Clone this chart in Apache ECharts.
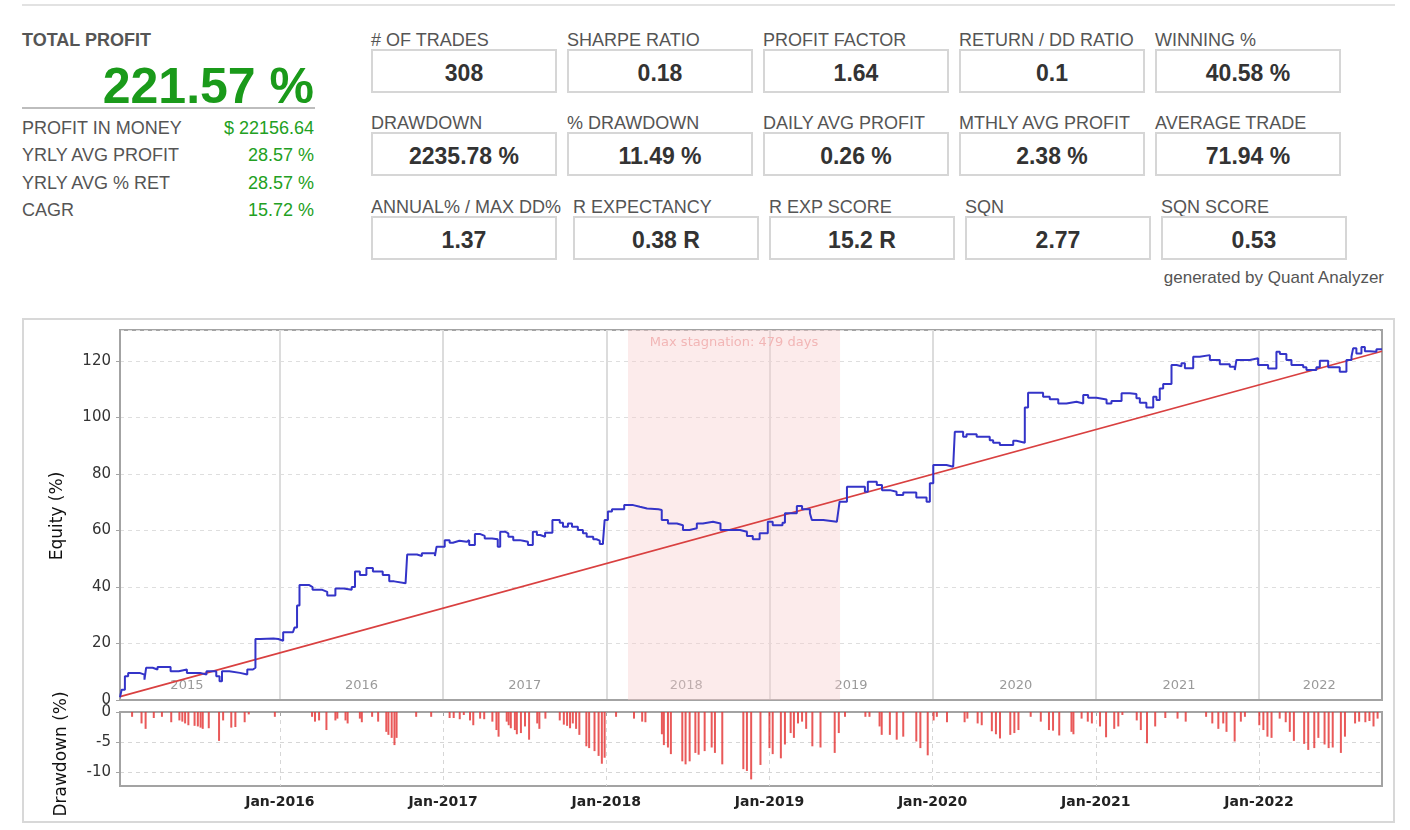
<!DOCTYPE html>
<html>
<head>
<meta charset="utf-8" />
<title>Quant Analyzer - equity</title>
<script src="https://cdn.jsdelivr.net/npm/echarts@6.0.0/dist/echarts.min.js"></script>
<style>
	body { margin: 0; width: 1410px; height: 830px; background: #fff; position: relative; overflow: hidden;
		font-family: "Liberation Sans", Arial, sans-serif; }
	.t { position: absolute; white-space: nowrap; }
	.box { position: absolute; box-sizing: border-box; border: 2px solid #d6d6d6; width: 186px; height: 44px;
		text-align: center; line-height: 45px; font-weight: bold; font-size: 23px; color: #333; }
	#chartBox { position: absolute; left: 22px; top: 318px; width: 1373px; height: 505px; box-sizing: border-box;
		border: 2px solid #d8d8d8; }
	#chart { position: absolute; left: 0; top: 0; width: 1369px; height: 501px; }
</style>
</head>
<body>
<div class="t" style="left:22px;top:4px;width:1373px;height:2px;background:#e2e2e2"></div>
<div class="t" style="left:22px;top:29px;line-height:22px;font-size:18px;font-weight:bold;color:#555">TOTAL PROFIT</div>
<div class="t" id="bigProfit" style="left:22px;top:56px;width:292px;line-height:60px;text-align:right;font-size:50px;font-weight:bold;color:#1a9a1a"></div>
<div class="t" style="left:22px;top:107px;width:293px;height:2px;background:#bdbdbd"></div>
<div id="stats"></div>
<div id="boxes"></div>
<div class="t" style="left:1000px;width:384px;top:268px;line-height:20px;text-align:right;font-size:17px;color:#555">generated by Quant Analyzer</div>

<div id="chartBox"><div id="chart"></div></div>

<script type="text/javascript">

	/******************* summary ******************/
	var totalProfit = '221.57 %';
	var statLabels = ['PROFIT IN MONEY', 'YRLY AVG PROFIT', 'YRLY AVG % RET', 'CAGR'];
	var statValues = ['$ 22156.64', '28.57 %', '28.57 %', '15.72 %'];

	var boxLabels = [
		['# OF TRADES', 'SHARPE RATIO', 'PROFIT FACTOR', 'RETURN / DD RATIO', 'WINNING %'],
		['DRAWDOWN', '% DRAWDOWN', 'DAILY AVG PROFIT', 'MTHLY AVG PROFIT', 'AVERAGE TRADE'],
		['ANNUAL% / MAX DD%', 'R EXPECTANCY', 'R EXP SCORE', 'SQN', 'SQN SCORE']
	];
	var boxValues = [
		['308', '0.18', '1.64', '0.1', '40.58 %'],
		['2235.78 %', '11.49 %', '0.26 %', '2.38 %', '71.94 %'],
		['1.37', '0.38 R', '15.2 R', '2.77', '0.53']
	];

	/******************* equity (x = decimal year) ******************/
	var equityYear = [
		2015.02, 2015.03, 2015.05, 2015.07, 2015.14, 2015.17, 2015.18, 2015.22, 2015.25, 2015.33,
		2015.38, 2015.43, 2015.51, 2015.55, 2015.61, 2015.63, 2015.645, 2015.69, 2015.755, 2015.80,
		2015.835, 2015.85, 2015.88, 2015.96, 2015.99, 2016.02, 2016.08, 2016.09, 2016.105, 2016.12,
		2016.18, 2016.20, 2016.26, 2016.29, 2016.34, 2016.39, 2016.44, 2016.46, 2016.49, 2016.53,
		2016.57, 2016.63, 2016.67, 2016.70, 2016.77, 2016.78, 2016.84, 2016.87, 2016.95, 2016.96,
		2017.01, 2017.04, 2017.06, 2017.10, 2017.145, 2017.16, 2017.195, 2017.225, 2017.255, 2017.30,
		2017.335, 2017.35, 2017.38, 2017.40, 2017.43, 2017.47, 2017.49, 2017.52, 2017.55, 2017.575,
		2017.595, 2017.625, 2017.67, 2017.715, 2017.735, 2017.765, 2017.79, 2017.826, 2017.857, 2017.88,
		2017.92, 2017.94, 2017.96, 2017.98, 2017.99, 2018.01, 2018.035, 2018.11, 2018.165, 2018.206,
		2018.25, 2018.32, 2018.34, 2018.378, 2018.433, 2018.47, 2018.51, 2018.555, 2018.592, 2018.654,
		2018.70, 2018.82, 2018.862, 2018.898, 2018.94, 2018.99, 2019.02, 2019.08, 2019.095, 2019.168,
		2019.20, 2019.248, 2019.26, 2019.33, 2019.413, 2019.42, 2019.43, 2019.475, 2019.585, 2019.603,
		2019.658, 2019.69, 2019.738, 2019.779, 2019.82, 2019.90, 2019.963, 2019.983, 2020.004, 2020.085,
		2020.126, 2020.136, 2020.187, 2020.208, 2020.27, 2020.35, 2020.371, 2020.412, 2020.494, 2020.514,
		2020.565, 2020.585, 2020.677, 2020.718, 2020.77, 2020.82, 2020.882, 2020.923, 2020.953, 2021.004,
		2021.066, 2021.096, 2021.158, 2021.209, 2021.249, 2021.27, 2021.31, 2021.352, 2021.372, 2021.392,
		2021.413, 2021.464, 2021.495, 2021.525, 2021.546, 2021.597, 2021.637, 2021.699, 2021.76, 2021.821,
		2021.852, 2021.862, 2021.944, 2021.995, 2022.056, 2022.107, 2022.128, 2022.168, 2022.199, 2022.271,
		2022.291, 2022.352, 2022.373, 2022.424, 2022.495, 2022.536, 2022.567, 2022.577, 2022.597, 2022.628,
		2022.649, 2022.679, 2022.72, 2022.754
	];
	var equityPct = [
		1.0, 3.6, 8.4, 9.6, 9.0, 7.2, 11.4, 10.8, 11.7, 10.2,
		10.8, 9.6, 9.0, 10.2, 8.4, 6.6, 10.2, 9.6, 9.0, 10.8,
		11.4, 21.6, 21.8, 21.6, 21.0, 24.0, 24.5, 25.7, 33.5, 40.7,
		40.0, 39.0, 38.3, 37.0, 39.5, 39.0, 40.0, 45.5, 44.3, 46.7,
		45.5, 44.3, 42.0, 41.3, 42.0, 51.5, 51.0, 52.0, 51.0, 54.3,
		56.6, 55.7, 56.4, 56.0, 56.6, 54.9, 58.8, 58.1, 57.2, 56.9,
		54.3, 59.6, 59.0, 57.8, 56.6, 56.4, 56.0, 54.9, 59.6, 58.4,
		57.8, 59.2, 63.7, 62.8, 61.3, 62.5, 61.3, 60.2, 59.0, 57.8,
		56.9, 56.4, 55.2, 56.0, 63.7, 66.7, 67.5, 69.0, 68.4, 67.8,
		67.5, 67.3, 63.7, 62.5, 61.9, 60.2, 60.8, 62.5, 63.1, 62.5,
		60.2, 59.6, 58.1, 56.9, 59.0, 63.1, 61.9, 62.8, 66.1, 68.7,
		67.5, 66.1, 63.7, 63.1, 62.5, 66.1, 70.2, 75.5, 73.7, 77.3,
		76.1, 74.3, 73.7, 72.6, 73.5, 71.7, 70.2, 76.7, 83.2, 82.6,
		82.0, 95.0, 93.2, 94.1, 93.2, 92.0, 91.1, 90.3, 91.8, 91.1,
		103.6, 108.8, 107.4, 106.5, 105.0, 105.6, 105.0, 108.0, 107.0, 106.4,
		105.0, 105.9, 108.6, 108.3, 106.8, 105.2, 103.6, 107.4, 106.2, 110.3,
		111.9, 118.6, 118.2, 119.2, 117.5, 121.5, 122.1, 120.4, 118.9, 118.0,
		116.8, 120.4, 121.0, 118.6, 117.4, 123.3, 122.5, 120.4, 118.6, 117.8,
		116.8, 117.8, 120.1, 117.8, 116.2, 120.4, 121.6, 124.5, 122.7, 125.0,
		123.5, 123.3, 124.2, 124.2
	];

	// linear trend of equity
	var trendYear = [2015.02, 2022.754];
	var trendPct = [1.2, 123.5];

	/******************* drawdown ******************/
	var ddYear = [
		2015.094, 2015.152, 2015.177, 2015.227, 2015.277, 2015.334, 2015.384, 2015.402, 2015.419, 2015.439,
		2015.477, 2015.497, 2015.514, 2015.527, 2015.564, 2015.627, 2015.652, 2015.702, 2015.727, 2015.784,
		2015.809, 2015.969, 2016.197, 2016.215, 2016.24, 2016.285, 2016.34, 2016.352, 2016.402, 2016.415,
		2016.49, 2016.502, 2016.565, 2016.602, 2016.652, 2016.665, 2016.685, 2016.702, 2016.715, 2016.835,
		2016.927, 2017.04, 2017.065, 2017.102, 2017.127, 2017.165, 2017.185, 2017.227, 2017.252, 2017.302,
		2017.327, 2017.34, 2017.39, 2017.402, 2017.415, 2017.44, 2017.452, 2017.477, 2017.502, 2017.527,
		2017.577, 2017.59, 2017.627, 2017.715, 2017.74, 2017.76, 2017.778, 2017.795, 2017.815, 2017.835,
		2017.878, 2017.895, 2017.928, 2017.953, 2017.973, 2017.99, 2018.06, 2018.17, 2018.22, 2018.24,
		2018.341, 2018.353, 2018.378, 2018.396, 2018.466, 2018.486, 2018.511, 2018.546, 2018.566, 2018.603,
		2018.646, 2018.666, 2018.711, 2018.84, 2018.862, 2018.888, 2018.945, 2019.0, 2019.02, 2019.07,
		2019.095, 2019.13, 2019.15, 2019.175, 2019.2, 2019.225, 2019.263, 2019.313, 2019.4, 2019.425,
		2019.463, 2019.588, 2019.613, 2019.675, 2019.688, 2019.738, 2019.78, 2019.82, 2019.9, 2019.925,
		2019.97, 2020.006, 2020.026, 2020.088, 2020.196, 2020.213, 2020.276, 2020.301, 2020.363, 2020.388,
		2020.413, 2020.476, 2020.501, 2020.526, 2020.601, 2020.663, 2020.713, 2020.738, 2020.776, 2020.851,
		2020.863, 2020.913, 2020.951, 2020.976, 2021.026, 2021.063, 2021.113, 2021.138, 2021.163, 2021.251,
		2021.276, 2021.314, 2021.364, 2021.426, 2021.501, 2021.551, 2021.676, 2021.714, 2021.751, 2021.781,
		2021.801, 2021.851, 2021.889, 2021.914, 2022.002, 2022.027, 2022.052, 2022.077, 2022.127, 2022.164,
		2022.189, 2022.214, 2022.277, 2022.302, 2022.339, 2022.364, 2022.402, 2022.427, 2022.452, 2022.502,
		2022.527, 2022.589, 2022.614, 2022.652, 2022.677, 2022.702, 2022.727
	];
	var ddPct = [
		-0.8, -1.9, -2.8, -1.0, -0.8, -1.7, -1.4, -1.6, -1.9, -2.2,
		-2.3, -2.4, -2.6, -2.8, -2.7, -4.8, -1.4, -2.6, -2.5, -1.7,
		-0.4, -0.8, -0.8, -1.6, -1.4, -3.0, -1.4, -1.1, -1.4, -1.9,
		-1.1, -1.7, -0.8, -1.6, -3.3, -3.8, -4.3, -5.5, -4.3, -0.8,
		-0.8, -1.0, -1.0, -1.2, -0.5, -1.4, -2.2, -1.1, -1.2, -1.6,
		-3.0, -4.1, -1.6, -2.2, -2.7, -3.0, -3.7, -3.5, -2.4, -4.6,
		-1.9, -2.8, -1.1, -1.4, -2.1, -2.3, -2.7, -1.9, -2.8, -3.8,
		-5.7, -6.0, -6.5, -7.3, -8.6, -7.6, -0.8, -1.1, -1.6, -1.7,
		-3.7, -5.5, -5.9, -7.0, -8.2, -8.7, -8.2, -6.8, -7.1, -6.5,
		-5.9, -6.8, -8.7, -9.5, -9.8, -11.2, -8.8, -6.0, -7.0, -7.7,
		-5.4, -3.5, -4.3, -1.9, -1.6, -2.8, -5.7, -5.9, -6.8, -3.5,
		-0.8, -0.8, -0.8, -2.4, -3.8, -3.8, -4.6, -4.1, -4.9, -6.0,
		-7.2, -1.4, -0.8, -1.7, -1.7, -1.1, -1.9, -2.2, -3.2, -3.7,
		-4.4, -3.8, -3.5, -3.0, -0.8, -1.6, -3.0, -3.1, -3.9, -3.3,
		-3.7, -1.1, -1.6, -1.9, -2.4, -4.2, -2.8, -2.4, -0.5, -1.4,
		-3.0, -5.2, -2.4, -1.0, -1.1, -1.6, -0.8, -1.9, -2.8, -1.9,
		-3.3, -4.9, -1.6, -0.8, -2.2, -3.0, -4.1, -4.3, -1.1, -1.7,
		-3.3, -4.8, -5.3, -6.3, -6.0, -4.3, -5.4, -6.0, -5.9, -6.8,
		-4.1, -1.9, -1.6, -1.7, -1.5, -2.4, -1.1
	];

	/******************* axis labels ******************/
	var yearStarts = [2016, 2017, 2018, 2019, 2020, 2021, 2022];
	var yearNames = ['2015', '2016', '2017', '2018', '2019', '2020', '2021', '2022'];
	var yearNamePos = [2015.43, 2016.5, 2017.5, 2018.49, 2019.5, 2020.51, 2021.51, 2022.37];
	var stagnation = [2018.133, 2019.433];
	var stagnationText = 'Max stagnation: 479 days';

	/******************* top panel ******************/
	document.getElementById('bigProfit').textContent = totalProfit;

	var statRowY = [128, 155, 183, 210];
	var html = '';
	for (let i = 0; i < statLabels.length; ++i) {
		html += '<div class="t" style="left:22px;top:' + (statRowY[i] - 11) + 'px;line-height:22px;font-size:18px;color:#555">' + statLabels[i] + '</div>';
		html += '<div class="t" style="left:180px;width:134px;text-align:right;top:' + (statRowY[i] - 11) + 'px;line-height:22px;font-size:18px;color:#22a022">' + statValues[i] + '</div>';
	}
	document.getElementById('stats').innerHTML = html;

	var rowLabelY = [40, 123, 207];
	var rowBoxTop = [49, 132, 216];
	var colLeft = [[371, 567, 763, 959, 1155], [371, 567, 763, 959, 1155], [371, 573, 769, 965, 1161]];
	html = '';
	for (let r = 0; r < 3; ++r) {
		for (let c = 0; c < 5; ++c) {
			html += '<div class="t" style="left:' + colLeft[r][c] + 'px;top:' + (rowLabelY[r] - 11) + 'px;line-height:22px;font-size:18px;color:#555">' + boxLabels[r][c] + '</div>';
			html += '<div class="box" style="left:' + colLeft[r][c] + 'px;top:' + rowBoxTop[r] + 'px">' + boxValues[r][c] + '</div>';
		}
	}
	document.getElementById('boxes').innerHTML = html;

	/******************* chart ******************/
	var dom = document.getElementById('chart');
	var myChart = echarts.init(dom, null, { renderer: 'canvas' });

	var xMin = 2015.02, xMax = 2022.754;
	var axisGray = '#a3a3a3';

	var option = {
		animation: false,
		grid: [
			{ left: 96, top: 10, width: 1262, height: 370, show: true, borderColor: axisGray, borderWidth: 2 },
			{ left: 96, top: 392, width: 1262, height: 74, show: true, borderColor: axisGray, borderWidth: 2 }
		],
		graphic: [
			{
				type: 'text', x: 34, y: 196, rotation: Math.PI / 2,
				style: { text: 'Equity (%)', font: '17px "DejaVu Sans"', fill: '#111', align: 'center', verticalAlign: 'middle' }
			},
			{
				type: 'text', x: 38, y: 434, rotation: Math.PI / 2,
				style: { text: 'Drawdown (%)', font: '17px "DejaVu Sans"', fill: '#111', align: 'center', verticalAlign: 'middle' }
			}
		],
		xAxis: [
			{
				gridIndex: 0, type: 'value', min: xMin, max: xMax,
				axisLine: { lineStyle: { color: axisGray, width: 2 } },
				axisTick: { show: false, customValues: yearStarts },
				axisLabel: {
					inside: true, margin: 8, customValues: yearNamePos,
					color: '#9a9a9a', fontSize: 13, fontFamily: 'DejaVu Sans',
					formatter: function (v) { return yearNames[yearNamePos.indexOf(v)]; }
				},
				splitLine: { show: true, lineStyle: { color: '#dcdcdc', width: 2 } }
			},
			{
				gridIndex: 1, type: 'value', min: xMin, max: xMax,
				axisLine: { lineStyle: { color: axisGray, width: 2 } },
				axisTick: { show: true, length: 4, customValues: yearStarts, lineStyle: { color: axisGray } },
				axisLabel: {
					margin: 9, customValues: yearStarts, color: '#222', fontSize: 14, fontWeight: 'bold',
					fontFamily: 'DejaVu Sans',
					formatter: function (v) { return 'Jan-' + v; }
				},
				splitLine: { show: true, lineStyle: { color: '#d6d6d6', type: [4, 4] } }
			}
		],
		yAxis: [
			{
				gridIndex: 0, type: 'value', min: 0, max: 131, interval: 20,
				axisLine: { show: true, lineStyle: { color: axisGray, width: 2 } },
				axisTick: { show: true, length: 4, lineStyle: { color: axisGray } },
				axisLabel: { margin: 9, color: '#333', fontSize: 15, fontFamily: 'DejaVu Sans', showMaxLabel: false },
				splitLine: { lineStyle: { color: '#dedede', type: [4, 4] } }
			},
			{
				gridIndex: 1, type: 'value', min: -12.3, max: 0,
				axisLine: { show: true, lineStyle: { color: axisGray, width: 2 } },
				axisTick: { show: true, length: 4, customValues: [-10, -5, 0], lineStyle: { color: axisGray } },
				axisLabel: { margin: 9, customValues: [-10, -5, 0], color: '#333', fontSize: 15, fontFamily: 'DejaVu Sans' },
				splitLine: { lineStyle: { color: '#d6d6d6', type: [4, 4] } }
			}
		],
		series: [
			{
				name: 'Trend',
				type: 'line',
				xAxisIndex: 0, yAxisIndex: 0,
				symbol: 'none',
				z: 2,
				lineStyle: { color: '#d94040', width: 1.6 },
				data: trendYear.map(function (t, i) { return [t, trendPct[i]]; })
			},
			{
				name: 'Equity',
				type: 'line',
				xAxisIndex: 0, yAxisIndex: 0,
				step: 'end',
				symbol: 'none',
				z: 3,
				lineStyle: { color: '#3434c8', width: 2 },
				data: equityYear.map(function (t, i) { return [t, equityPct[i]]; }),
				markArea: {
					silent: true,
					itemStyle: { color: 'rgba(248, 205, 205, 0.4)' },
					label: {
						show: true, position: 'insideTop', distance: 6, color: '#f2b6b6',
						fontSize: 13, fontFamily: 'DejaVu Sans'
					},
					data: [[{ name: stagnationText, xAxis: stagnation[0] }, { xAxis: stagnation[1] }]]
				}
			},
			{
				name: 'Drawdown',
				type: 'bar',
				xAxisIndex: 1, yAxisIndex: 1,
				barWidth: 2,
				itemStyle: { color: 'rgba(228, 52, 52, 0.82)' },
				data: ddYear.map(function (t, i) { return [t, ddPct[i]]; })
			}
		]
	};

	myChart.setOption(option);
	window.addEventListener('resize', myChart.resize);
</script>
</body>
</html>
